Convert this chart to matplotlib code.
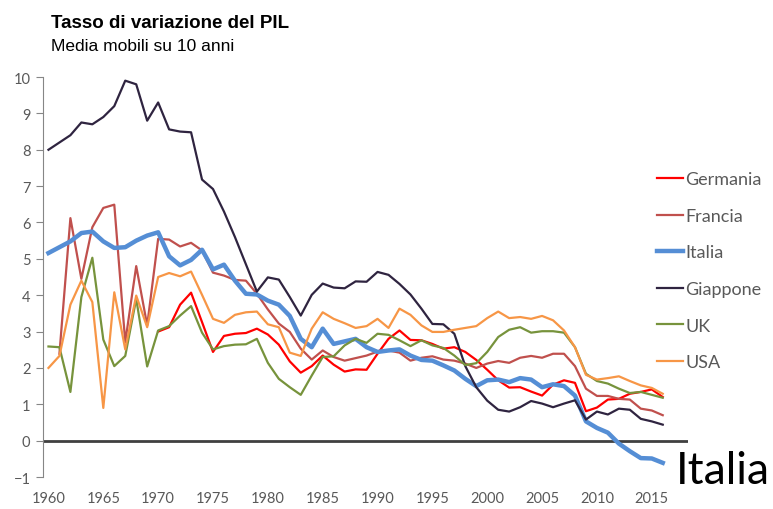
import numpy as np
import matplotlib.pyplot as plt

nan = np.nan
years = np.arange(1960, 2017)

germania = [nan] * 10 + [
    3.0, 3.12, 3.74, 4.07, 3.26, 2.44, 2.88, 2.94, 2.96, 3.08,
    2.92, 2.64, 2.18, 1.87, 2.05, 2.34, 2.09, 1.9, 1.96, 1.95,
    2.39, 2.8, 3.03, 2.77, 2.76, 2.66, 2.53, 2.57, 2.44, 2.22,
    1.95, 1.66, 1.46, 1.47, 1.35, 1.24, 1.54, 1.66, 1.59, 0.81,
    0.91, 1.13, 1.15, 1.29, 1.34, 1.41, 1.2]
francia = [nan,
    2.39, 6.12, 4.45, 5.87, 6.4, 6.49, 2.71, 4.8, 3.17,
    5.55, 5.53, 5.34, 5.44, 5.23, 4.62, 4.54, 4.42, 4.4, 4.04,
    3.61, 3.22, 2.99, 2.53, 2.23, 2.48, 2.3, 2.2, 2.27, 2.34,
    2.45, 2.48, 2.42, 2.2, 2.28, 2.32, 2.23, 2.2, 2.12, 2.0,
    2.12, 2.19, 2.14, 2.28, 2.33, 2.28, 2.39, 2.39, 2.05, 1.43,
    1.23, 1.23, 1.15, 1.13, 0.88, 0.83, 0.7]
italia = [
    5.16, 5.32, 5.48, 5.71, 5.75, 5.48, 5.3, 5.32, 5.5, 5.64,
    5.73, 5.07, 4.82, 4.97, 5.25, 4.71, 4.84, 4.4, 4.04, 4.02,
    3.85, 3.74, 3.43, 2.8, 2.57, 3.08, 2.66, 2.73, 2.8, 2.57,
    2.44, 2.48, 2.51, 2.34, 2.22, 2.2, 2.07, 1.93, 1.7, 1.5,
    1.66, 1.68, 1.61, 1.72, 1.68, 1.47, 1.55, 1.5, 1.24, 0.53,
    0.35, 0.22, -0.08, -0.29, -0.48, -0.49, -0.61]
giappone = [
    8.0, 8.2, 8.4, 8.75, 8.7, 8.9, 9.2, 9.9, 9.8, 8.8,
    9.3, 8.56, 8.5, 8.48, 7.18, 6.92, 6.3, 5.6, 4.85, 4.1,
    4.49, 4.43, 3.95, 3.44, 4.01, 4.32, 4.21, 4.19, 4.38, 4.37,
    4.64, 4.56, 4.31, 4.02, 3.63, 3.21, 3.2, 2.94, 2.05, 1.47,
    1.1, 0.85, 0.8, 0.92, 1.09, 1.02, 0.92, 1.02, 1.11, 0.58,
    0.8, 0.72, 0.88, 0.85, 0.6, 0.53, 0.44]
uk = [
    2.59, 2.57, 1.34, 3.95, 5.03, 2.78, 2.05, 2.33, 3.9, 2.04,
    3.03, 3.15, 3.44, 3.7, 2.97, 2.51, 2.6, 2.64, 2.65, 2.8,
    2.14, 1.7, 1.47, 1.26, 1.79, 2.3, 2.32, 2.62, 2.8, 2.69,
    2.94, 2.91, 2.76, 2.6, 2.76, 2.62, 2.55, 2.34, 2.08, 2.13,
    2.44, 2.85, 3.05, 3.12, 2.97, 3.01, 3.01, 2.97, 2.57, 1.84,
    1.64, 1.57, 1.43, 1.31, 1.34, 1.26, 1.18]
usa = [
    2.0, 2.33, 3.74, 4.4, 3.81, 0.9, 4.08, 2.51, 3.99, 3.12,
    4.5, 4.61, 4.52, 4.65, 4.01, 3.35, 3.24, 3.46, 3.53, 3.55,
    3.2, 3.12, 2.42, 2.33, 3.08, 3.53, 3.35, 3.23, 3.1, 3.15,
    3.35, 3.1, 3.63, 3.46, 3.17, 2.99, 2.99, 3.05, 3.1, 3.15,
    3.37, 3.55, 3.37, 3.4, 3.35, 3.43, 3.31, 3.03, 2.57, 1.81,
    1.68, 1.72, 1.77, 1.64, 1.52, 1.45, 1.29]

series = [
    ("Germania", germania, "#FF0000", 1.6),
    ("Francia", francia, "#C0504D", 1.6),
    ("Italia", italia, "#558ED5", 3.2),
    ("Giappone", giappone, "#2F2440", 1.6),
    ("UK", uk, "#77933C", 1.6),
    ("USA", usa, "#F79646", 1.6),
]

grey = "#595959"
fig = plt.figure(figsize=(7.73, 5.10), dpi=100)
ax = fig.add_axes([0.0556, 0.0627, 0.8344, 0.7843])

ax.axhline(0, color="#404040", lw=2, zorder=1)
for name, vals, col, lw in series:
    ax.plot(years, vals, color=col, lw=lw, label=name, zorder=2)

ax.set_xlim(1959.5, 2018.3)
ax.set_ylim(-1, 10)
ax.set_yticks(range(-1, 11))
ax.set_xticks(range(1960, 2016, 5))
for s in ["top", "right", "bottom"]:
    ax.spines[s].set_visible(False)
ax.spines["left"].set_color("#868686")
ax.tick_params(axis="y", colors="#868686", length=5, labelcolor=grey,
               labelsize=10.5, pad=4)
ax.tick_params(axis="x", length=0, labelcolor=grey, labelsize=10.5, pad=10)
for lab in ax.get_xticklabels() + ax.get_yticklabels():
    lab.set_fontfamily("Lato")

# legenda a destra, righe distanziate come nell'originale
leg = ax.legend(loc="upper left", bbox_to_anchor=(0.829, 0.694),
                bbox_transform=fig.transFigure, frameon=False,
                handlelength=1.45, handletextpad=0.1, labelspacing=1.14,
                prop={"family": "Lato", "size": 13})
for t in leg.get_texts():
    t.set_color(grey)

fig.text(0.066, 0.945, "Tasso di variazione del PIL", fontsize=13.5,
         fontweight="bold", family="Liberation Sans", va="baseline")
fig.text(0.066, 0.9, "Media mobili su 10 anni", fontsize=12.5,
         family="Liberation Sans", va="baseline")
fig.text(0.874, 0.05, "Italia", fontsize=32, family="Lato", va="baseline")

fig.savefig("out.png", dpi=100)
